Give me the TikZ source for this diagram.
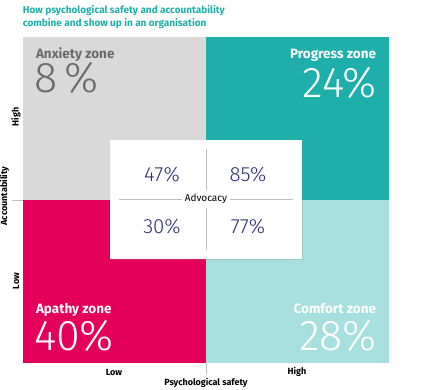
\documentclass[tikz,border=0pt]{standalone}
\usepackage{fontspec}
\setmainfont{Fira Sans}
\newfontfamily\thinfont{Fira Sans Light}
\usetikzlibrary{positioning, shadows}

\definecolor{anxietygray}{HTML}{D9D9D9}
\definecolor{progressteal}{HTML}{1FAFAB}
\definecolor{apathyred}{HTML}{E4005A}
\definecolor{comfortteal}{HTML}{A7DFDE}
\definecolor{advocacyblue}{HTML}{2B2F6E}
\definecolor{zonegray}{HTML}{6B6B6B}
\definecolor{rulegray}{HTML}{BDBDBD}

\begin{document}
\begin{tikzpicture}
  [x=1pt, y=-1pt, inner sep=0pt, outer sep=0pt,
   zone/.style={minimum width=183pt, minimum height=163pt},
   zonename/.style={font=\bfseries\fontsize{13.5}{13.5}\selectfont},
   zonepct/.style={font=\thinfont\fontsize{43}{43}\selectfont},
   cell/.style={font=\thinfont\fontsize{20.5}{20.5}\selectfont, text=advocacyblue},
   axislabel/.style={font=\bfseries\fontsize{9}{9}\selectfont}]
  \useasboundingbox (0,0) rectangle (428,390);

  % title
  \node[anchor=base west, align=left, text=progressteal,
        font=\bfseries\fontsize{10}{13}\selectfont] (title) at (23,27)
    {How psychological safety and accountability\\combine and show up in an organisation};

  % quadrants
  \node[zone, fill=anxietygray]  (anxiety)  at (114.5,118.5) {};
  \node[zone, fill=progressteal] (progress) at (297.5,118.5) {};
  \node[zone, fill=apathyred]    (apathy)   at (114.5,281.5) {};
  \node[zone, fill=comfortteal]  (comfort)  at (297.5,281.5) {};

  \node[zonename, text=zonegray, anchor=base west] (anxietyname) at (36,59) {Anxiety zone};
  \node[zonepct, text=zonegray, anchor=base west] (anxietypct) at (34,93) {8\,\%};
  \node[zonename, text=white, anchor=base east] (progressname) at (376,59) {Progress zone};
  \node[zonepct, text=white, anchor=base east] (progresspct) at (377,98) {24\%};
  \node[zonename, text=white, anchor=base west] (apathyname) at (36,313) {Apathy zone};
  \node[zonepct, text=white, anchor=base west] (apathypct) at (34,350) {40\%};
  \node[zonename, text=white, anchor=base east] (comfortname) at (376,313) {Comfort zone};
  \node[zonepct, text=white, anchor=base east] (comfortpct) at (377,350) {28\%};

  % advocacy box
  \node[fill=white, minimum width=192pt, minimum height=119pt,
        drop shadow={shadow xshift=1pt, shadow yshift=-1pt, opacity=0.25}] (advocacy) at (206,199.5) {};
  \node[fill=white, inner xsep=3pt, font=\fontsize{10}{10}\selectfont] (advtext) at (206,199) {Advocacy};
  \draw[rulegray, line width=0.8pt] (119,199) -- (advtext.west) (advtext.east) -- (293,199)
    (206,149) -- (206,190) (206,208) -- (206,250);
  \node[cell] (cellA) at (162,175) {47\%};
  \node[cell] (cellB) at (248,175) {85\%};
  \node[cell] (cellC) at (162,227) {30\%};
  \node[cell] (cellD) at (248,227) {77\%};

  % axes
  \draw[rulegray, line width=0.8pt] (12,200) -- (23,200) (206,363) -- (206,374);
  \node[axislabel, rotate=90] (yhigh) at (16,117) {High};
  \node[axislabel, rotate=90] (ylabel) at (4.5,196) {Accountability};
  \node[axislabel, rotate=90] (ylow) at (16,281) {Low};
  \node[axislabel] (xlow) at (114,372) {Low};
  \node[axislabel] (xhigh) at (297,372) {High};
  \node[axislabel] (xlabel) at (206,383) {Psychological safety};
\end{tikzpicture}
\end{document}
